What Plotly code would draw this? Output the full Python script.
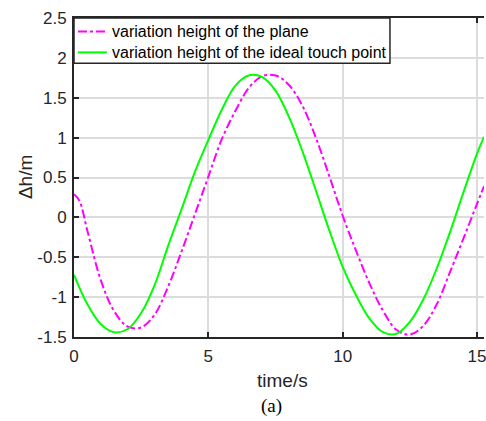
import plotly.graph_objects as go

# Height variation of the plane (m) over time (s)
t_plane = [0, 0.2, 0.5, 1.0, 1.5, 2.0, 2.5, 3.0, 3.5, 4.0, 4.5, 5.0, 5.5, 6.0, 6.5, 7.0,
           7.5, 8.0, 8.5, 9.0, 9.5, 10.0, 10.5, 11.0, 11.5, 12.0, 12.5, 13.0, 13.5,
           14.0, 14.5, 15.0, 15.26]
h_plane = [0.29, 0.21, -0.17, -0.79, -1.18, -1.37, -1.38, -1.22, -0.87, -0.43, 0.04,
           0.51, 0.98, 1.33, 1.62, 1.77, 1.78, 1.66, 1.40, 1.00, 0.52, 0.02, -0.42,
           -0.83, -1.17, -1.41, -1.47, -1.36, -1.09, -0.68, -0.26, 0.17, 0.39]

# Height variation of the ideal touch point (m) over time (s)
t_touch = [0, 0.5, 1.0, 1.5, 2.0, 2.5, 3.0, 3.5, 4.0, 4.5, 5.0, 5.5, 6.0, 6.5, 7.0, 7.5,
           8.0, 8.5, 9.0, 9.5, 10.0, 10.5, 11.0, 11.5, 12.0, 12.5, 13.0, 13.5, 14.0,
           14.5, 15.0, 15.26]
h_touch = [-0.72, -1.09, -1.34, -1.44, -1.40, -1.20, -0.85, -0.36, 0.10, 0.57, 0.97,
           1.35, 1.65, 1.78, 1.76, 1.59, 1.26, 0.83, 0.34, -0.16, -0.62, -0.98, -1.27,
           -1.44, -1.46, -1.31, -1.03, -0.64, -0.18, 0.32, 0.80, 1.01]

series_names = ["variation height of the plane", "variation height of the ideal touch point"]
series_colors = ["#ff00ff", "#00ff00"]
series_dash = ["dashdot", "solid"]

x_ticks = [0, 5, 10, 15]
y_ticks = [-1.5, -1, -0.5, 0, 0.5, 1, 1.5, 2, 2.5]
y_tick_text = ["-1.5", "-1", "-0.5", "0", "0.5", "1", "1.5", "2", "2.5"]

AXIS = "#262626"
SANS = "Liberation Sans, Arial, sans-serif"
SERIF = "Liberation Serif, Times New Roman, serif"

# plot area geometry in pixels
L, T, W, H = 74, 17.5, 412, 320


def px_x(p):
    return (p - L) / W


def px_y(p):
    return (T + H - p) / H


fig = go.Figure()
for tx, hy, name, col, dash in zip([t_plane, t_touch], [h_plane, h_touch],
                                    series_names, series_colors, series_dash):
    fig.add_trace(go.Scatter(
        x=tx, y=hy, mode="lines", name=name, showlegend=False,
        line=dict(color=col, width=2, dash=dash, shape="spline", smoothing=1),
    ))

# boxed legend in the upper-left corner of the axes
shapes = [dict(type="rect", xref="paper", yref="paper",
               x0=px_x(74), x1=px_x(391.5), y0=px_y(63), y1=px_y(17.5),
               line=dict(color=AXIS, width=1.5), fillcolor="white", layer="above")]
annotations = []
for i, (name, col, dash) in enumerate(zip(series_names, series_colors, series_dash)):
    row_y = px_y(31 + 21 * i)
    shapes.append(dict(type="line", xref="paper", yref="paper",
                       x0=px_x(78), x1=px_x(107), y0=row_y, y1=row_y,
                       line=dict(color=col, width=2, dash=dash), layer="above"))
    annotations.append(dict(text=name, x=px_x(110), y=row_y, xref="paper", yref="paper",
                            xanchor="left", yanchor="middle", showarrow=False,
                            font=dict(family=SANS, size=16, color="black")))

annotations += [
    dict(text="time/s", x=0.5, y=-0.1375, xref="paper", yref="paper",
         xanchor="center", yanchor="middle", showarrow=False,
         font=dict(family=SANS, size=19, color=AXIS), xshift=3),
    dict(text="Δh/m", x=-0.118, y=0.5, xref="paper", yref="paper",
         xanchor="center", yanchor="middle", showarrow=False, textangle=-90,
         font=dict(family=SANS, size=19, color=AXIS)),
    dict(text="(a)", x=0.5, y=-0.2156, xref="paper", yref="paper",
         xanchor="center", yanchor="middle", showarrow=False,
         font=dict(family=SERIF, size=19, color="black"), xshift=-8),
]

fig.update_layout(
    width=486, height=421,
    margin=dict(l=L, r=0, t=T, b=421 - T - H),
    paper_bgcolor="white", plot_bgcolor="white",
    font=dict(family=SANS, size=17, color=AXIS),
    showlegend=False,
    xaxis=dict(
        range=[0, W / 27.0], tickvals=x_ticks, ticktext=[str(v) for v in x_ticks],
        showgrid=True, gridcolor="#dcdcdc", gridwidth=1.5,
        showline=True, linecolor=AXIS, linewidth=2, mirror="ticks",
        ticks="inside", ticklen=5, tickwidth=2, tickcolor=AXIS,
        tickfont=dict(family=SANS, size=17, color=AXIS),
        ticklabelstandoff=3, ticklabeloverflow="allow", zeroline=False,
    ),
    yaxis=dict(
        range=[-1.5, 2.5], tickvals=y_ticks, ticktext=y_tick_text,
        showgrid=True, gridcolor="#dcdcdc", gridwidth=1.5,
        showline=True, linecolor=AXIS, linewidth=2, mirror=False,
        ticks="inside", ticklen=5, tickwidth=2, tickcolor=AXIS,
        tickfont=dict(family=SANS, size=17, color=AXIS),
        ticklabelstandoff=2, zeroline=False,
    ),
    shapes=shapes,
    annotations=annotations,
)

fig.write_html("out.html")
